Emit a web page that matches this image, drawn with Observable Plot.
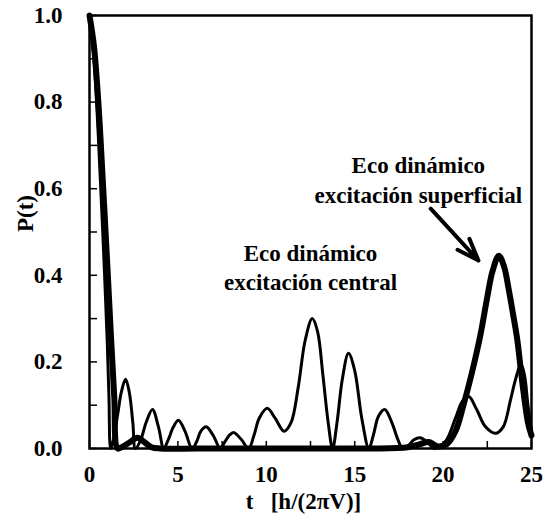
<!DOCTYPE html>
<html>
<head>
<meta charset="utf-8">
<script src="https://cdn.jsdelivr.net/npm/d3@7"></script>
<script src="https://cdn.jsdelivr.net/npm/@observablehq/plot@0.6"></script>
<style>
  body { margin: 0; background: #fff; }
  #chart svg text { font-family: "Liberation Serif", "Times New Roman", serif !important; font-weight: bold; }
</style>
</head>
<body>
<div id="chart"></div>
<script>
// Central excitation (thin curve)
const tCentral = [0,0.25,0.5,0.75,1.0,1.1,1.2,1.35,1.6,1.8,2.04,2.25,2.45,2.6,2.9,3.2,3.56,3.9,4.2,4.45,4.75,5.03,5.4,5.8,6.05,6.3,6.6,7.0,7.4,7.65,7.9,8.15,8.6,9.0,9.3,9.6,10.05,10.5,11.0,11.4,11.8,12.2,12.6,12.9,13.2,13.5,13.75,14.0,14.3,14.65,15.0,15.4,15.8,16.05,16.35,16.7,17.1,17.45,17.7,18.0,18.35,18.7,19.1,19.5,19.8,20.2,20.7,21.1,21.45,21.9,22.4,22.96,23.4,23.8,24.1,24.4,24.6,24.8,25];
const pCentral = [1,0.9,0.72,0.5,0.25,0.12,0.0,0.02,0.08,0.13,0.16,0.13,0.06,0.0,0.02,0.06,0.09,0.05,0.0,0.02,0.05,0.065,0.04,0.0,0.015,0.04,0.05,0.03,0.0,0.015,0.03,0.037,0.02,0.0,0.03,0.07,0.093,0.07,0.04,0.06,0.14,0.25,0.30,0.27,0.17,0.06,0.0,0.06,0.16,0.22,0.18,0.07,0.0,0.03,0.075,0.09,0.06,0.02,0.0,0.005,0.02,0.025,0.015,0.0,0.005,0.02,0.07,0.11,0.12,0.09,0.05,0.035,0.05,0.11,0.16,0.195,0.17,0.1,0.04];

// Superficial excitation (thick curve)
const tSurface = [0,0.25,0.5,0.75,1.0,1.2,1.4,1.6,1.9,2.3,2.7,3.1,3.5,4,6,8,10,12,14,16,18,18.7,19.2,19.7,20.2,20.7,21.15,21.6,22.1,22.5,22.8,23.15,23.45,23.7,24.0,24.2,24.4,24.55,24.8,25];
const pSurface = [1,0.93,0.8,0.62,0.43,0.27,0.12,0.0,0.005,0.015,0.025,0.015,0.003,0,0,0,0,0,0,0,0.003,0.01,0.015,0.005,0.01,0.04,0.10,0.17,0.26,0.35,0.41,0.445,0.42,0.37,0.30,0.25,0.18,0.13,0.06,0.03];

const xTickLabels = [0,5,10,15,20,25];
const xTicks = [0,2.5,5,7.5,10,12.5,15,17.5,20,22.5,25];
const yTickLabels = [0,0.2,0.4,0.6,0.8,1.0];
const yTicks = [0,0.1,0.2,0.3,0.4,0.5,0.6,0.7,0.8,0.9,1.0];

const yLabel = "P(t)";
const xLabel = "t\u00a0\u00a0\u00a0[h/(2\u03c0V)]";

const annotations = [
  {t: 18.6, p: 0.654, text: "Eco dinámico"},
  {t: 18.6, p: 0.584, text: "excitación superficial"},
  {t: 12.5, p: 0.450, text: "Eco dinámico"},
  {t: 12.5, p: 0.383, text: "excitación central"}
];
const arrowFrom = {t: 19.3, p: 0.554};
const arrowTo = {t: 22.0, p: 0.434};

const central = tCentral.map((t, i) => ({t, p: pCentral[i]}));
const surface = tSurface.map((t, i) => ({t, p: pSurface[i]}));

const font = "Liberation Serif";
const txt = {fontFamily: font, fontWeight: "bold", fontSize: 23, fill: "#000"};

const chart = Plot.plot({
  width: 556,
  height: 527,
  marginLeft: 89,
  marginRight: 25,
  marginTop: 15,
  marginBottom: 79,
  style: {fontFamily: font, fontWeight: "bold", fontSize: "23px", background: "#fff", color: "#000"},
  x: {domain: [0, 25]},
  y: {domain: [0, 1]},
  marks: [
    Plot.axisX({ticks: xTickLabels, tickSize: 0, tickPadding: 17, tickFormat: d => String(d), ...txt, label: null}),
    Plot.axisX({ticks: xTicks, tickSize: -7, text: null, strokeWidth: 1.5, label: null}),
    Plot.axisY({ticks: yTickLabels, tickSize: 0, tickPadding: 27, tickFormat: d => d.toFixed(1), ...txt, label: null}),
    Plot.axisY({ticks: yTicks, tickSize: -8, text: null, strokeWidth: 1.5, label: null}),
    Plot.line(central, {x: "t", y: "p", stroke: "#000", strokeWidth: 3, curve: "catmull-rom", strokeLinejoin: "round"}),
    Plot.line(surface, {x: "t", y: "p", stroke: "#000", strokeWidth: 6, curve: "catmull-rom", strokeLinejoin: "round"}),
    Plot.frame({stroke: "#000", strokeWidth: 2.5}),
    Plot.text(annotations, {x: "t", y: "p", text: "text", ...txt, textAnchor: "middle"}),
    Plot.arrow([{}], {x1: () => arrowFrom.t, y1: () => arrowFrom.p, x2: () => arrowTo.t, y2: () => arrowTo.p, stroke: "#000", strokeWidth: 4, headLength: 10, headAngle: 40}),
    Plot.text([yLabel], {frameAnchor: "left", dx: -64, rotate: -90, ...txt}),
    Plot.text([xLabel], {frameAnchor: "bottom", dy: 60, dx: -7, ...txt})
  ]
});
document.getElementById("chart").appendChild(chart);
</script>
</body>
</html>
